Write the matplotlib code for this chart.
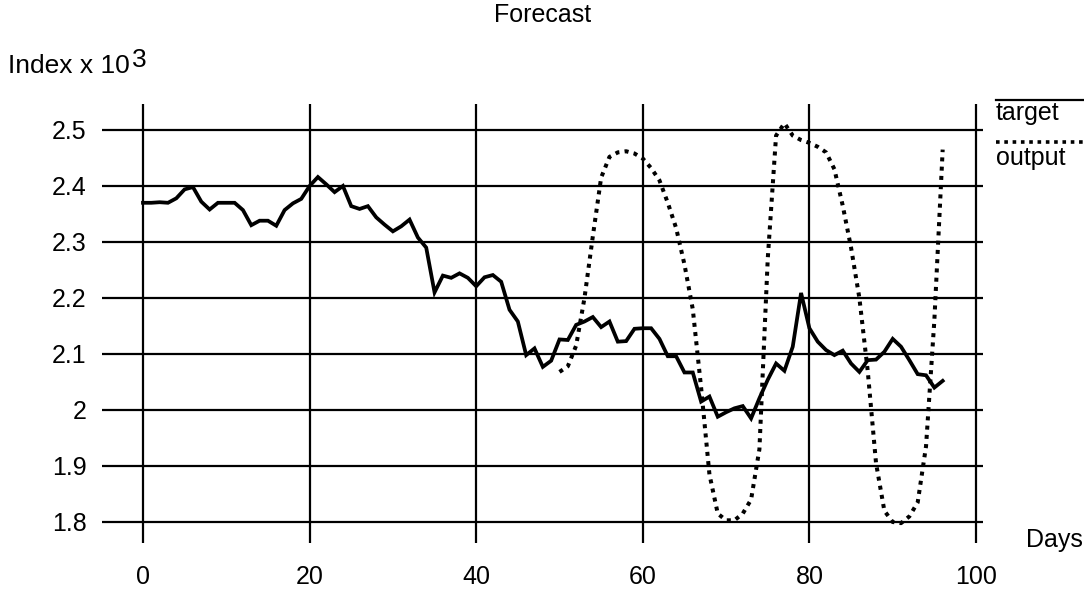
import numpy as np
import matplotlib
matplotlib.use("Agg")
import matplotlib.pyplot as plt
from matplotlib.lines import Line2D

plt.rcParams["font.family"] = ["Liberation Sans", "DejaVu Sans"]

# data
days_target = list(range(0, 97))
target = [
    2.370, 2.370, 2.371, 2.370, 2.378, 2.394, 2.398, 2.372, 2.358, 2.370,
    2.370, 2.370, 2.357, 2.330, 2.338, 2.338, 2.329, 2.357, 2.369, 2.377,
    2.400, 2.416, 2.403, 2.389, 2.400, 2.364, 2.359, 2.364, 2.344, 2.331,
    2.319, 2.328, 2.340, 2.308, 2.290, 2.210, 2.240, 2.236, 2.244, 2.236,
    2.221, 2.237, 2.241, 2.229, 2.179, 2.158, 2.098, 2.110, 2.077, 2.088,
    2.126, 2.125, 2.152, 2.158, 2.166, 2.148, 2.158, 2.122, 2.123, 2.145,
    2.146, 2.146, 2.127, 2.096, 2.096, 2.067, 2.067, 2.015, 2.024, 1.988,
    1.996, 2.003, 2.007, 1.985, 2.021, 2.054, 2.083, 2.070, 2.113, 2.209,
    2.146, 2.122, 2.107, 2.098, 2.106, 2.083, 2.068, 2.089, 2.090, 2.104,
    2.127, 2.113, 2.089, 2.064, 2.062, 2.040, 2.052,
]

days_output = list(range(50, 97))
output = [
    2.068, 2.078, 2.115, 2.200, 2.310, 2.415, 2.452, 2.460, 2.462, 2.458,
    2.449, 2.432, 2.410, 2.370, 2.325, 2.260, 2.180, 2.040, 1.885, 1.815,
    1.803, 1.803, 1.815, 1.840, 1.930, 2.270, 2.490, 2.512, 2.490, 2.482,
    2.477, 2.470, 2.460, 2.430, 2.365, 2.290, 2.200, 2.070, 1.905, 1.820,
    1.800, 1.798, 1.810, 1.835, 1.935, 2.160, 2.465,
]

xticks = [0, 20, 40, 60, 80, 100]
yticks = [1.8, 1.9, 2.0, 2.1, 2.2, 2.3, 2.4, 2.5]
ytick_labels = ["1.8", "1.9", "2", "2.1", "2.2", "2.3", "2.4", "2.5"]

W, H = 1084, 589
FS = 18
DOTS = (0, (1.0, 1.3))

fig = plt.figure(figsize=(W / 100, H / 100), dpi=100)
ax = fig.add_axes([102 / W, 1 - 543 / H, (983 - 102) / W, (543 - 104) / H])

ax.plot(days_target, target, color="black", lw=2.7, solid_joinstyle="miter")
ax.plot(days_output, output, color="black", lw=2.9, linestyle=DOTS)

ax.set_xlim(-4.92, 100.84)
ax.set_ylim(1.7625, 2.5464)
ax.set_xticks(xticks)
ax.set_xticklabels([str(t) for t in xticks])
ax.set_yticks(yticks)
ax.set_yticklabels(ytick_labels)
ax.tick_params(axis="both", length=0, labelsize=FS)
ax.tick_params(axis="x", pad=16)
ax.tick_params(axis="y", pad=11)
ax.grid(True, color="black", lw=1.6)
ax.set_axisbelow(True)
for s in ax.spines.values():
    s.set_visible(False)

# texts around the plot (pixel positions from the reference)
def fx(px):
    return px / W

def fy(py):
    return 1 - py / H

fig.text(fx(543), fy(15), "Forecast", ha="center", va="center", fontsize=FS)
fig.text(fx(8), fy(73), "Index x 10", ha="left", va="baseline", fontsize=19)
fig.text(fx(132), fy(67), "3", ha="left", va="baseline", fontsize=19)
fig.text(fx(1083), fy(540), "Days", ha="right", va="center", fontsize=FS)

# legend at the top right
fig.add_artist(Line2D([fx(996), fx(1084)], [fy(100), fy(100)], color="black", lw=1.6,
                      transform=fig.transFigure))
fig.text(fx(996), fy(120), "target", ha="left", va="baseline", fontsize=FS)
fig.add_artist(Line2D([fx(996), fx(1084)], [fy(142), fy(142)], color="black", lw=2.6,
                      linestyle=DOTS, transform=fig.transFigure))
fig.text(fx(996), fy(165), "output", ha="left", va="baseline", fontsize=FS)

fig.savefig("out.png", dpi=100)
